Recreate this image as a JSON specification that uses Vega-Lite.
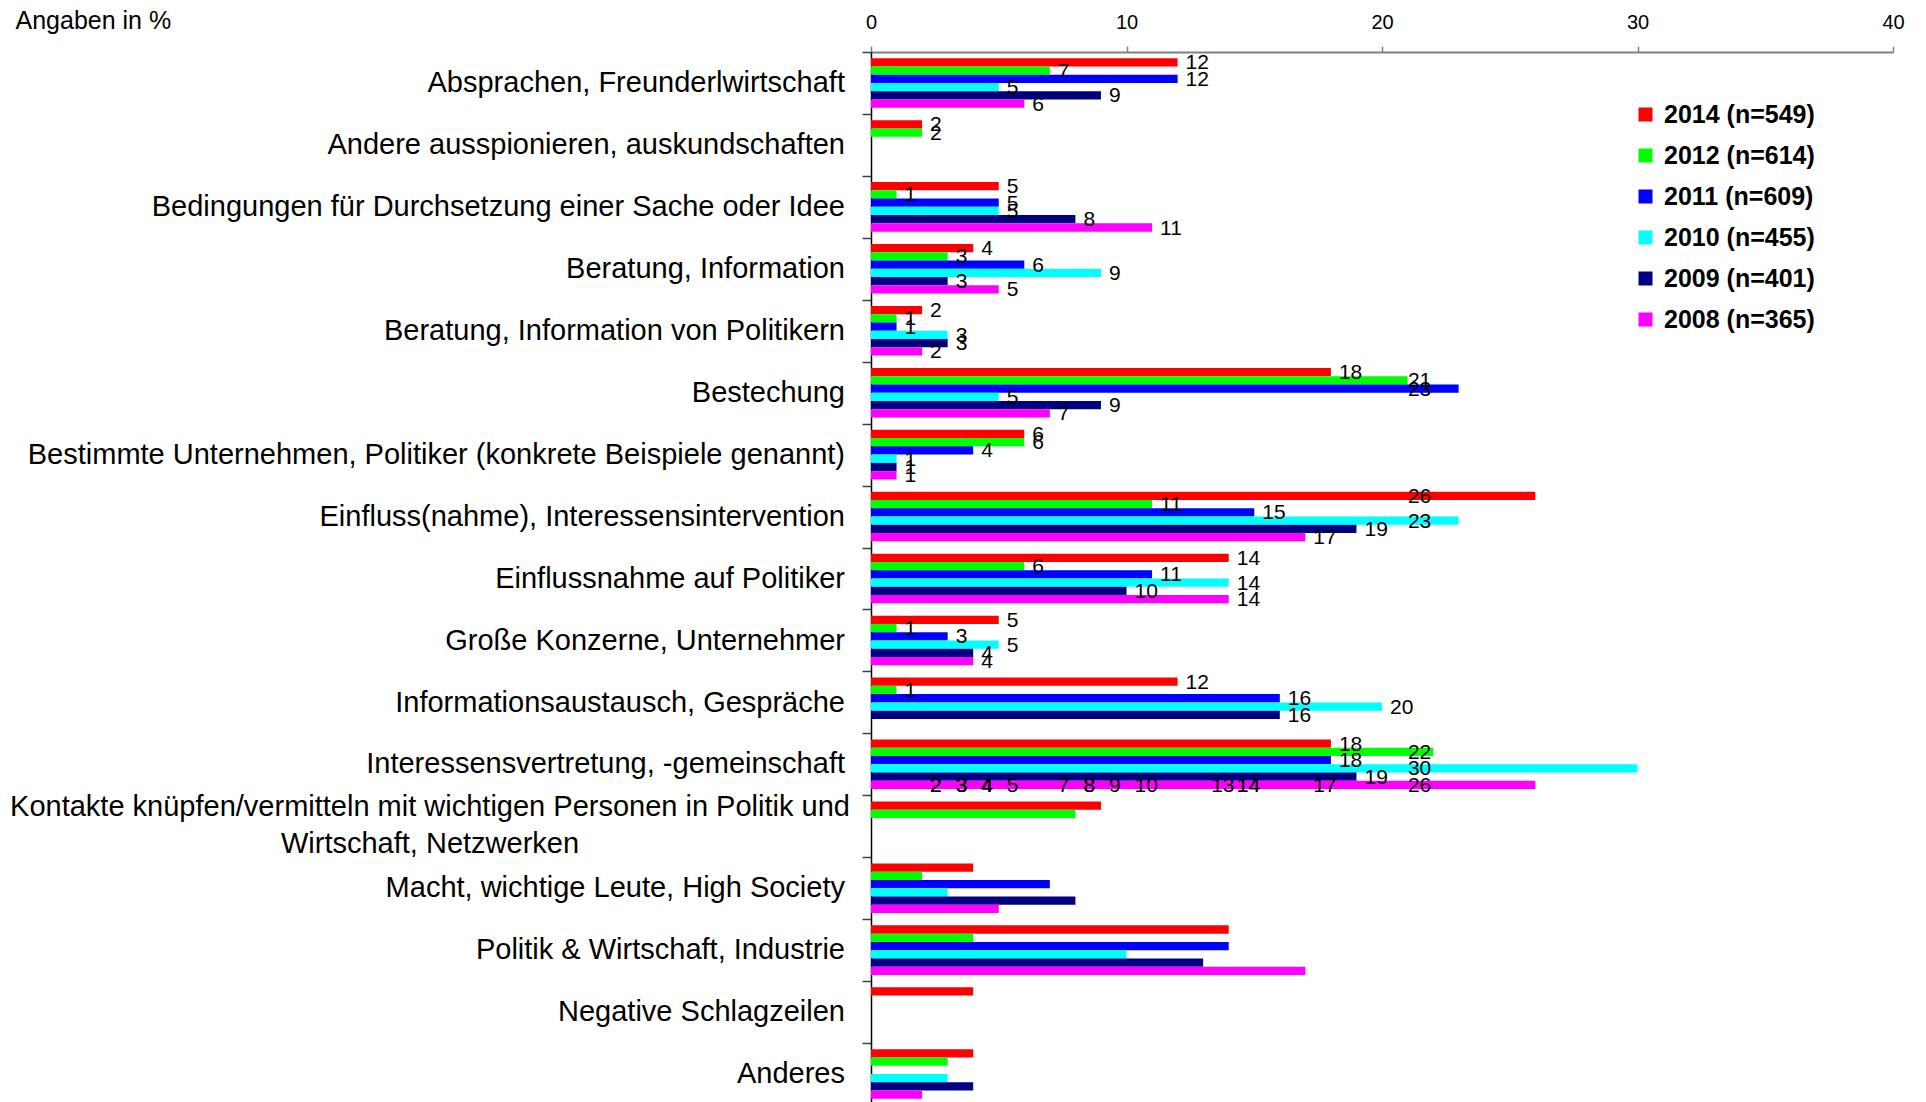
{
  "$schema": "https://vega.github.io/schema/vega-lite/v6.json",
  "width": 1022,
  "height": 1053,
  "autosize": {"type": "none"},
  "padding": {"left": 871, "top": 52, "right": 33, "bottom": 0},
  "background": "white",
  "config": {"font": "Liberation Sans", "view": {"stroke": null}},
  "data": {"values": [
    {"kategorie": "Absprachen, Freunderlwirtschaft", "jahr": "2014 (n=549)", "wert": 12},
    {"kategorie": "Absprachen, Freunderlwirtschaft", "jahr": "2012 (n=614)", "wert": 7},
    {"kategorie": "Absprachen, Freunderlwirtschaft", "jahr": "2011 (n=609)", "wert": 12},
    {"kategorie": "Absprachen, Freunderlwirtschaft", "jahr": "2010 (n=455)", "wert": 5},
    {"kategorie": "Absprachen, Freunderlwirtschaft", "jahr": "2009 (n=401)", "wert": 9},
    {"kategorie": "Absprachen, Freunderlwirtschaft", "jahr": "2008 (n=365)", "wert": 6},
    {"kategorie": "Andere ausspionieren, auskundschaften", "jahr": "2014 (n=549)", "wert": 2},
    {"kategorie": "Andere ausspionieren, auskundschaften", "jahr": "2012 (n=614)", "wert": 2},
    {"kategorie": "Bedingungen für Durchsetzung einer Sache oder Idee", "jahr": "2014 (n=549)", "wert": 5},
    {"kategorie": "Bedingungen für Durchsetzung einer Sache oder Idee", "jahr": "2012 (n=614)", "wert": 1},
    {"kategorie": "Bedingungen für Durchsetzung einer Sache oder Idee", "jahr": "2011 (n=609)", "wert": 5},
    {"kategorie": "Bedingungen für Durchsetzung einer Sache oder Idee", "jahr": "2010 (n=455)", "wert": 5},
    {"kategorie": "Bedingungen für Durchsetzung einer Sache oder Idee", "jahr": "2009 (n=401)", "wert": 8},
    {"kategorie": "Bedingungen für Durchsetzung einer Sache oder Idee", "jahr": "2008 (n=365)", "wert": 11},
    {"kategorie": "Beratung, Information", "jahr": "2014 (n=549)", "wert": 4},
    {"kategorie": "Beratung, Information", "jahr": "2012 (n=614)", "wert": 3},
    {"kategorie": "Beratung, Information", "jahr": "2011 (n=609)", "wert": 6},
    {"kategorie": "Beratung, Information", "jahr": "2010 (n=455)", "wert": 9},
    {"kategorie": "Beratung, Information", "jahr": "2009 (n=401)", "wert": 3},
    {"kategorie": "Beratung, Information", "jahr": "2008 (n=365)", "wert": 5},
    {"kategorie": "Beratung, Information von Politikern", "jahr": "2014 (n=549)", "wert": 2},
    {"kategorie": "Beratung, Information von Politikern", "jahr": "2012 (n=614)", "wert": 1},
    {"kategorie": "Beratung, Information von Politikern", "jahr": "2011 (n=609)", "wert": 1},
    {"kategorie": "Beratung, Information von Politikern", "jahr": "2010 (n=455)", "wert": 3},
    {"kategorie": "Beratung, Information von Politikern", "jahr": "2009 (n=401)", "wert": 3},
    {"kategorie": "Beratung, Information von Politikern", "jahr": "2008 (n=365)", "wert": 2},
    {"kategorie": "Bestechung", "jahr": "2014 (n=549)", "wert": 18},
    {"kategorie": "Bestechung", "jahr": "2012 (n=614)", "wert": 21},
    {"kategorie": "Bestechung", "jahr": "2011 (n=609)", "wert": 23},
    {"kategorie": "Bestechung", "jahr": "2010 (n=455)", "wert": 5},
    {"kategorie": "Bestechung", "jahr": "2009 (n=401)", "wert": 9},
    {"kategorie": "Bestechung", "jahr": "2008 (n=365)", "wert": 7},
    {"kategorie": "Bestimmte Unternehmen, Politiker (konkrete Beispiele genannt)", "jahr": "2014 (n=549)", "wert": 6},
    {"kategorie": "Bestimmte Unternehmen, Politiker (konkrete Beispiele genannt)", "jahr": "2012 (n=614)", "wert": 6},
    {"kategorie": "Bestimmte Unternehmen, Politiker (konkrete Beispiele genannt)", "jahr": "2011 (n=609)", "wert": 4},
    {"kategorie": "Bestimmte Unternehmen, Politiker (konkrete Beispiele genannt)", "jahr": "2010 (n=455)", "wert": 1},
    {"kategorie": "Bestimmte Unternehmen, Politiker (konkrete Beispiele genannt)", "jahr": "2009 (n=401)", "wert": 1},
    {"kategorie": "Bestimmte Unternehmen, Politiker (konkrete Beispiele genannt)", "jahr": "2008 (n=365)", "wert": 1},
    {"kategorie": "Einfluss(nahme), Interessensintervention", "jahr": "2014 (n=549)", "wert": 26},
    {"kategorie": "Einfluss(nahme), Interessensintervention", "jahr": "2012 (n=614)", "wert": 11},
    {"kategorie": "Einfluss(nahme), Interessensintervention", "jahr": "2011 (n=609)", "wert": 15},
    {"kategorie": "Einfluss(nahme), Interessensintervention", "jahr": "2010 (n=455)", "wert": 23},
    {"kategorie": "Einfluss(nahme), Interessensintervention", "jahr": "2009 (n=401)", "wert": 19},
    {"kategorie": "Einfluss(nahme), Interessensintervention", "jahr": "2008 (n=365)", "wert": 17},
    {"kategorie": "Einflussnahme auf Politiker", "jahr": "2014 (n=549)", "wert": 14},
    {"kategorie": "Einflussnahme auf Politiker", "jahr": "2012 (n=614)", "wert": 6},
    {"kategorie": "Einflussnahme auf Politiker", "jahr": "2011 (n=609)", "wert": 11},
    {"kategorie": "Einflussnahme auf Politiker", "jahr": "2010 (n=455)", "wert": 14},
    {"kategorie": "Einflussnahme auf Politiker", "jahr": "2009 (n=401)", "wert": 10},
    {"kategorie": "Einflussnahme auf Politiker", "jahr": "2008 (n=365)", "wert": 14},
    {"kategorie": "Große Konzerne, Unternehmer", "jahr": "2014 (n=549)", "wert": 5},
    {"kategorie": "Große Konzerne, Unternehmer", "jahr": "2012 (n=614)", "wert": 1},
    {"kategorie": "Große Konzerne, Unternehmer", "jahr": "2011 (n=609)", "wert": 3},
    {"kategorie": "Große Konzerne, Unternehmer", "jahr": "2010 (n=455)", "wert": 5},
    {"kategorie": "Große Konzerne, Unternehmer", "jahr": "2009 (n=401)", "wert": 4},
    {"kategorie": "Große Konzerne, Unternehmer", "jahr": "2008 (n=365)", "wert": 4},
    {"kategorie": "Informationsaustausch, Gespräche", "jahr": "2014 (n=549)", "wert": 12},
    {"kategorie": "Informationsaustausch, Gespräche", "jahr": "2012 (n=614)", "wert": 1},
    {"kategorie": "Informationsaustausch, Gespräche", "jahr": "2011 (n=609)", "wert": 16},
    {"kategorie": "Informationsaustausch, Gespräche", "jahr": "2010 (n=455)", "wert": 20},
    {"kategorie": "Informationsaustausch, Gespräche", "jahr": "2009 (n=401)", "wert": 16},
    {"kategorie": "Interessensvertretung, -gemeinschaft", "jahr": "2014 (n=549)", "wert": 18},
    {"kategorie": "Interessensvertretung, -gemeinschaft", "jahr": "2012 (n=614)", "wert": 22},
    {"kategorie": "Interessensvertretung, -gemeinschaft", "jahr": "2011 (n=609)", "wert": 18},
    {"kategorie": "Interessensvertretung, -gemeinschaft", "jahr": "2010 (n=455)", "wert": 30},
    {"kategorie": "Interessensvertretung, -gemeinschaft", "jahr": "2009 (n=401)", "wert": 19},
    {"kategorie": "Interessensvertretung, -gemeinschaft", "jahr": "2008 (n=365)", "wert": 26},
    {"kategorie": "Kontakte knüpfen/vermitteln mit wichtigen Personen in Politik und Wirtschaft, Netzwerken", "jahr": "2014 (n=549)", "wert": 9},
    {"kategorie": "Kontakte knüpfen/vermitteln mit wichtigen Personen in Politik und Wirtschaft, Netzwerken", "jahr": "2012 (n=614)", "wert": 8},
    {"kategorie": "Macht, wichtige Leute, High Society", "jahr": "2014 (n=549)", "wert": 4},
    {"kategorie": "Macht, wichtige Leute, High Society", "jahr": "2012 (n=614)", "wert": 2},
    {"kategorie": "Macht, wichtige Leute, High Society", "jahr": "2011 (n=609)", "wert": 7},
    {"kategorie": "Macht, wichtige Leute, High Society", "jahr": "2010 (n=455)", "wert": 3},
    {"kategorie": "Macht, wichtige Leute, High Society", "jahr": "2009 (n=401)", "wert": 8},
    {"kategorie": "Macht, wichtige Leute, High Society", "jahr": "2008 (n=365)", "wert": 5},
    {"kategorie": "Politik & Wirtschaft, Industrie", "jahr": "2014 (n=549)", "wert": 14},
    {"kategorie": "Politik & Wirtschaft, Industrie", "jahr": "2012 (n=614)", "wert": 4},
    {"kategorie": "Politik & Wirtschaft, Industrie", "jahr": "2011 (n=609)", "wert": 14},
    {"kategorie": "Politik & Wirtschaft, Industrie", "jahr": "2010 (n=455)", "wert": 10},
    {"kategorie": "Politik & Wirtschaft, Industrie", "jahr": "2009 (n=401)", "wert": 13},
    {"kategorie": "Politik & Wirtschaft, Industrie", "jahr": "2008 (n=365)", "wert": 17},
    {"kategorie": "Negative Schlagzeilen", "jahr": "2014 (n=549)", "wert": 4},
    {"kategorie": "Anderes", "jahr": "2014 (n=549)", "wert": 4},
    {"kategorie": "Anderes", "jahr": "2012 (n=614)", "wert": 3},
    {"kategorie": "Anderes", "jahr": "2010 (n=455)", "wert": 3},
    {"kategorie": "Anderes", "jahr": "2009 (n=401)", "wert": 4},
    {"kategorie": "Anderes", "jahr": "2008 (n=365)", "wert": 2}
  ]},
  "encoding": {
    "y": {
      "field": "kategorie", "type": "nominal",
      "scale": {
        "domain": ["Absprachen, Freunderlwirtschaft", "Andere ausspionieren, auskundschaften", "Bedingungen für Durchsetzung einer Sache oder Idee", "Beratung, Information", "Beratung, Information von Politikern", "Bestechung", "Bestimmte Unternehmen, Politiker (konkrete Beispiele genannt)", "Einfluss(nahme), Interessensintervention", "Einflussnahme auf Politiker", "Große Konzerne, Unternehmer", "Informationsaustausch, Gespräche", "Interessensvertretung, -gemeinschaft", "Kontakte knüpfen/vermitteln mit wichtigen Personen in Politik und Wirtschaft, Netzwerken", "Macht, wichtige Leute, High Society", "Politik & Wirtschaft, Industrie", "Negative Schlagzeilen", "Anderes"],
        "paddingInner": 0, "paddingOuter": 0
      },
      "axis": {
        "title": "Angaben in %", "titleAngle": 0, "titleAlign": "left", "titleBaseline": "middle",
        "titleX": -856, "titleY": -32, "titleFontSize": 25, "titleFontWeight": "normal", "titleColor": "#000000",
        "labels": false,
        "tickBand": "extent", "tickSize": 9, "tickColor": "#404040", "tickWidth": 1.5,
        "domainColor": "#000000", "domainWidth": 1.5
      }
    },
    "yOffset": {
      "field": "jahr", "type": "nominal",
      "scale": {"domain": ["2014 (n=549)", "2012 (n=614)", "2011 (n=609)", "2010 (n=455)", "2009 (n=401)", "2008 (n=365)"], "paddingInner": 0, "paddingOuter": 0.75}
    },
    "x": {
      "field": "wert", "type": "quantitative",
      "scale": {"domain": [0, 40], "nice": false},
      "axis": {
        "orient": "top", "values": [0, 10, 20, 30, 40], "title": null, "grid": false,
        "domainColor": "#808080", "domainWidth": 2, "tickColor": "#808080", "tickWidth": 1.5, "tickSize": 6,
        "labelFontSize": 20, "labelColor": "#000000", "labelPadding": 14, "labelFlush": false, "labelOverlap": false
      }
    }
  },
  "layer": [
    {
      "mark": {"type": "bar"},
      "encoding": {
        "color": {
          "field": "jahr", "type": "nominal",
          "scale": {"domain": ["2014 (n=549)", "2012 (n=614)", "2011 (n=609)", "2010 (n=455)", "2009 (n=401)", "2008 (n=365)"], "range": ["#FF0000", "#00FF00", "#0000FF", "#00FFFF", "#000080", "#FF00FF"]},
          "legend": {
            "orient": "none", "legendX": 762, "legendY": 50, "title": null, "padding": 0,
            "labelFontSize": 25, "labelFontWeight": "bold", "labelColor": "#000000",
            "symbolType": "square", "symbolSize": 196, "symbolStrokeWidth": 0, "symbolOpacity": 1,
            "rowPadding": 15, "labelOffset": 6
          }
        }
      }
    },
    {
      "transform": [
        {"aggregate": [{"op": "count", "as": "anzahl"}], "groupby": ["kategorie", "jahr", "wert"]},
        {"calculate": "indexof(['Kontakte knüpfen/vermitteln mit wichtigen Personen in Politik und Wirtschaft, Netzwerken', 'Macht, wichtige Leute, High Society', 'Politik & Wirtschaft, Industrie', 'Negative Schlagzeilen', 'Anderes'], datum.kategorie) >= 0", "as": "verrutscht"},
        {"calculate": "datum.wert", "as": "beschriftung"},
        {"calculate": "min(datum.wert, 20.7)", "as": "wert"},
        {"calculate": "datum.verrutscht ? 'Interessensvertretung, -gemeinschaft' : datum.kategorie", "as": "kategorie"},
        {"calculate": "datum.verrutscht ? '2008 (n=365)' : datum.jahr", "as": "jahr"}
      ],
      "mark": {"type": "text", "align": "left", "baseline": "middle", "dx": 8, "dy": 1, "fontSize": 21, "color": "#000000"},
      "encoding": {
        "text": {"field": "beschriftung", "type": "quantitative"}
      }
    },
    {
      "transform": [
        {"aggregate": [{"op": "count", "as": "anzahl"}], "groupby": ["kategorie"]},
        {"filter": "indexof(datum.kategorie, 'Kontakte') != 0"},
        {"calculate": "0", "as": "wert"},
        {"calculate": "'2010 (n=455)'", "as": "jahr"}
      ],
      "mark": {"type": "text", "align": "right", "baseline": "middle", "dx": -26, "dy": -4, "fontSize": 29, "color": "#000000"},
      "encoding": {
        "text": {"field": "kategorie", "type": "nominal"}
      }
    },
    {
      "transform": [
        {"aggregate": [{"op": "count", "as": "anzahl"}], "groupby": ["kategorie"]},
        {"filter": "indexof(datum.kategorie, 'Kontakte') == 0"},
        {"calculate": "0", "as": "wert"},
        {"calculate": "'2010 (n=455)'", "as": "jahr"},
        {"calculate": "[substring(datum.kategorie, 0, 65), substring(datum.kategorie, 66)]", "as": "zeilen"}
      ],
      "mark": {"type": "text", "align": "center", "baseline": "middle", "dx": -441, "dy": -23, "lineHeight": 37, "fontSize": 29, "color": "#000000"},
      "encoding": {
        "text": {"field": "zeilen", "type": "nominal"}
      }
    }
  ]
}
